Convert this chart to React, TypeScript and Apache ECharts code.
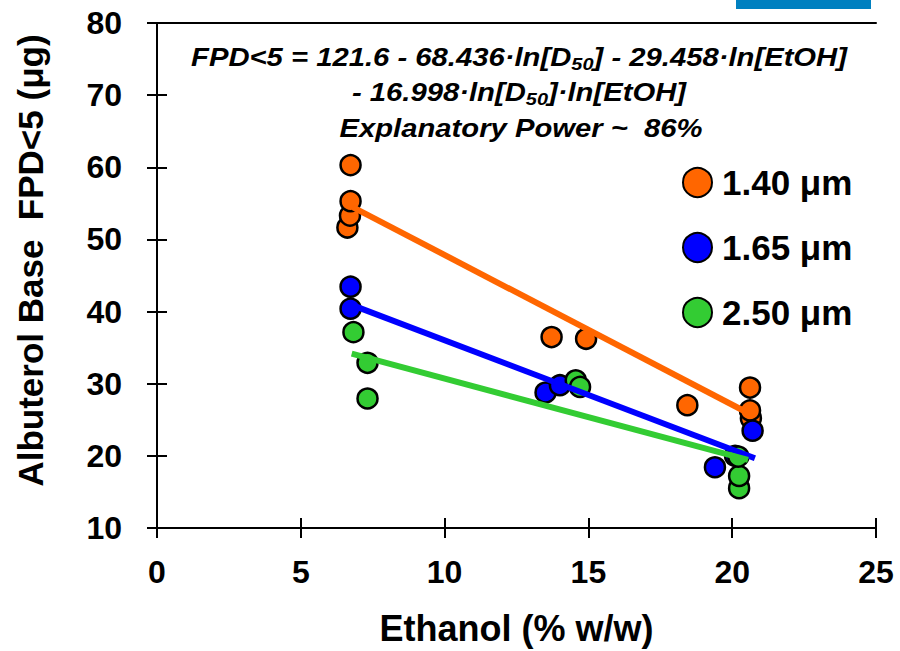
import React, { useEffect, useRef } from "react";
import * as echarts from "echarts";

const FONT = "'Liberation Sans', Arial, Helvetica, sans-serif";

const seriesNames = ["1.40 μm", "1.65 μm", "2.50 μm"];
const seriesColors = ["#FF6600", "#0000FF", "#33CC33"];

// [ethanol % w/w, FPD<5 µg]
const d140 = [
  [6.62, 51.65], [6.71, 53.3], [6.73, 55.3], [6.73, 60.3],
  [13.72, 36.47], [14.92, 36.23], [18.44, 27.03],
  [20.65, 25.2], [20.62, 26.3], [20.62, 29.47],
];
const d165 = [
  [6.73, 43.45], [6.73, 40.4], [13.51, 28.78], [14.01, 29.79],
  [20.1, 20.0], [19.4, 18.42], [20.71, 23.49],
];
const d250 = [
  [6.83, 37.15], [7.32, 32.9], [7.32, 27.95], [14.56, 30.48], [14.71, 29.56],
  [20.24, 15.52], [20.24, 17.22], [20.21, 19.9],
];

// regression line end points
const fit140 = [[6.82, 54.45], [20.45, 26.15]];
const fit165 = [[6.83, 40.83], [20.79, 19.66]];
const fit250 = [[6.77, 34.16], [20.55, 19.43]];

const xMin = 0, xMax = 25, xStep = 5;
const yMin = 10, yMax = 80, yStep = 10;

const xTitle = "Ethanol (% w/w)";
const yTitle = "Albuterol Base  FPD<5 (μg)";

const eqLine1 = "FPD<5 = 121.6 - 68.436·ln[D{s|50}] - 29.458·ln[EtOH]";
const eqLine2 = "- 16.998·ln[D{s|50}]·ln[EtOH]";
const eqLine3 = "Explanatory Power ~  86%";

export default function App() {
  const ref = useRef<HTMLDivElement>(null);
  useEffect(() => {
    if (!ref.current) return;
    const chart = echarts.init(ref.current, null, { renderer: "svg" });
    const axisLine = { show: true, lineStyle: { color: "#000", width: 2 } };
    const baseX = { type: "value", min: xMin, max: xMax, interval: xStep, splitLine: { show: false } };
    const baseY = { type: "value", min: yMin, max: yMax, interval: yStep, splitLine: { show: false } };
    const eqStyle = {
      fontSize: 25,
      fontWeight: "bold",
      fontStyle: "italic",
      fontFamily: FONT,
      fill: "#000",
      textAlign: "center",
      textVerticalAlign: "middle",
      lineHeight: 32,
      rich: {
        s: {
          fontSize: 17,
          fontWeight: "bold",
          fontStyle: "italic",
          fontFamily: FONT,
          lineHeight: 16,
          verticalAlign: "bottom",
        },
      },
    };
    const scatter = (i: number, data: number[][]) => ({
      name: seriesNames[i],
      type: "scatter",
      data,
      symbol: "circle",
      symbolSize: 20,
      itemStyle: { color: seriesColors[i], borderColor: "#000", borderWidth: 2.5, opacity: 1 },
      z: 2,
    });
    const fit = (i: number, data: number[][]) => ({
      name: "fit" + i,
      type: "line",
      data,
      symbol: "none",
      lineStyle: { color: seriesColors[i], width: 6 },
      z: 3,
    });
    chart.setOption({
      animation: false,
      backgroundColor: "#fff",
      grid: { left: 157, right: 24, top: 23, bottom: 121, containLabel: false },
      xAxis: [
        {
          ...baseX,
          position: "bottom",
          axisLine,
          axisTick: { show: true, inside: false, length: 10, lineStyle: { color: "#000", width: 2 } },
          axisLabel: { show: true, margin: 28, fontSize: 32, fontWeight: "bold", fontFamily: FONT, color: "#000" },
          name: xTitle,
          nameLocation: "middle",
          nameGap: 82,
          nameTextStyle: { fontSize: 36, fontWeight: "bold", fontFamily: FONT, color: "#000" },
        },
        {
          ...baseX,
          position: "bottom",
          axisLine: { show: false },
          axisTick: { show: true, inside: true, length: 10, lineStyle: { color: "#000", width: 2 } },
          axisLabel: { show: false },
        },
        {
          ...baseX,
          position: "top",
          axisLine,
          axisTick: { show: false },
          axisLabel: { show: false },
        },
      ],
      yAxis: [
        {
          ...baseY,
          position: "left",
          axisLine,
          axisTick: { show: true, inside: false, length: 10, lineStyle: { color: "#000", width: 2 } },
          axisLabel: { show: true, margin: 35, fontSize: 32, fontWeight: "bold", fontFamily: FONT, color: "#000" },
          name: yTitle,
          nameLocation: "middle",
          nameGap: 109,
          nameTextStyle: {
            fontSize: 35, fontWeight: "bold", fontFamily: FONT, color: "#000",
            padding: [0, 0, 0, 30],
          },
        },
        {
          ...baseY,
          position: "left",
          axisLine: { show: false },
          axisTick: { show: true, inside: true, length: 10, lineStyle: { color: "#000", width: 2 } },
          axisLabel: { show: false },
        },
        {
          ...baseY,
          position: "right",
          axisLine,
          axisTick: { show: false },
          axisLabel: { show: false },
        },
      ],
      legend: {
        data: seriesNames,
        orient: "vertical",
        left: 677,
        top: 160,
        itemWidth: 29,
        itemHeight: 29,
        itemGap: 30,
        icon: "circle",
        textStyle: { fontSize: 35, fontWeight: "bold", fontFamily: FONT, color: "#000", padding: [0, 0, 0, 5] },
      },
      graphic: [
        { type: "rect", left: 736, top: 0, shape: { width: 135, height: 9 }, style: { fill: "#0080C0" } },
        { type: "text", x: 519, y: 57, scaleX: 1.17, style: { ...eqStyle, text: eqLine1 } },
        { type: "text", x: 519, y: 92, scaleX: 1.17, style: { ...eqStyle, text: eqLine2 } },
        { type: "text", x: 521, y: 128, scaleX: 1.17, style: { ...eqStyle, text: eqLine3 } },
      ],
      series: [
        scatter(0, d140),
        scatter(1, d165),
        scatter(2, d250),
        fit(0, fit140),
        fit(1, fit165),
        fit(2, fit250),
      ],
    });
    return () => chart.dispose();
  }, []);
  return (
    <div
      ref={ref}
      style={{ position: "absolute", left: 0, top: 0, width: 900, height: 651, background: "#fff" }}
    />
  );
}
